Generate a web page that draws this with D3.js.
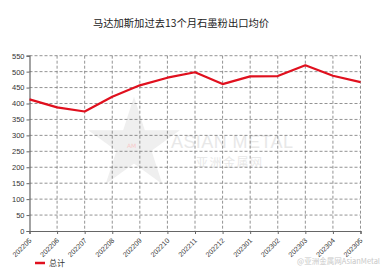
<!DOCTYPE html>
<html>
<head>
<meta charset="utf-8">
<script src="https://cdn.jsdelivr.net/npm/d3@7"></script>
<style>
  body { margin: 0; background: #fff; }
  svg { display: block; font-family: "Noto Sans CJK SC", "DejaVu Sans", sans-serif; }
</style>
</head>
<body>
<svg id="chart" width="383" height="270"></svg>
<script>
const months = ["202205", "202206", "202207", "202208", "202209", "202210", "202211",
    "202212", "202301", "202302", "202303", "202304", "202305"];
const total = [413, 388, 375, 421, 457, 481, 498, 461, 485, 486, 520, 487, 467];
const yTicks = [0, 50, 100, 150, 200, 250, 300, 350, 400, 450, 500, 550];
const title = "马达加斯加过去13个月石墨粉出口均价";
const seriesName = "总计";

const svg = d3.select("#chart");
const margin = { left: 29.5, right: 22.5, top: 55.7, bottom: 39 };
const W = 383, H = 270;

const x = d3.scalePoint().domain(months).range([margin.left, W - margin.right]);
const y = d3.scaleLinear().domain([0, 550]).range([H - margin.bottom, margin.top]);

// title
svg.append("text")
    .attr("x", 181).attr("y", 27)
    .attr("text-anchor", "middle")
    .attr("font-size", 10.3)
    .attr("fill", "#222")
    .text(title);

// watermark
const wm = svg.append("g").attr("opacity", 0.55);
const star = d3.symbol().type(d3.symbolStar).size(2600);
wm.append("path").attr("d", star()).attr("transform", "translate(134,145)")
    .attr("fill", "#e2e2e2");
wm.append("text").attr("x", 127).attr("y", 148).attr("font-size", 6).attr("fill", "#f2a0a0")
    .attr("font-family", "DejaVu Sans").text("AM");
wm.append("text").attr("x", 171).attr("y", 148).attr("font-size", 18)
    .attr("font-family", "Liberation Sans, Arial").attr("fill", "#d6d6d6")
    .attr("textLength", 122).text("ASIAN METAL");
wm.append("text").attr("x", 196).attr("y", 167).attr("font-size", 12)
    .attr("fill", "#d6d6d6").attr("letter-spacing", 1.5).text("亚洲金属网");

// grid
const grid = svg.append("g").attr("stroke", "#777").attr("stroke-width", 0.8)
    .attr("stroke-dasharray", "3,2");
grid.selectAll(".h").data(yTicks.filter(d => d > 0)).join("line")
    .attr("x1", margin.left).attr("x2", W - margin.right)
    .attr("y1", d => y(d)).attr("y2", d => y(d));
grid.selectAll(".v").data(months.slice(1)).join("line")
    .attr("x1", d => x(d)).attr("x2", d => x(d))
    .attr("y1", margin.top).attr("y2", H - margin.bottom);

// axes
const yAxis = svg.append("g").attr("transform", `translate(${margin.left},0)`)
    .call(d3.axisLeft(y).tickValues(yTicks).tickSize(3).tickPadding(2));
const xAxis = svg.append("g").attr("transform", `translate(0,${H - margin.bottom})`)
    .call(d3.axisBottom(x).tickSize(3).tickPadding(2));
[yAxis, xAxis].forEach(a => {
    a.select(".domain").attr("stroke", "#666").attr("stroke-width", 1.2);
    a.selectAll(".tick line").attr("stroke", "#666");
    a.selectAll("text").attr("font-size", 7.5).attr("fill", "#333")
        .attr("font-family", "Liberation Sans, Arial, sans-serif");
});
xAxis.selectAll("text")
    .attr("font-size", 7)
    .attr("text-anchor", "end")
    .attr("y", 0).attr("dx", 0).attr("dy", 0)
    .attr("transform", "translate(2,10) rotate(-45)");

// line
const line = d3.line().x((d, i) => x(months[i])).y(d => y(d));
svg.append("path").datum(total)
    .attr("d", line)
    .attr("fill", "none")
    .attr("stroke", "#e0101e")
    .attr("stroke-width", 2.2)
    .attr("stroke-linejoin", "round");

// legend
svg.append("line").attr("x1", 35).attr("x2", 45).attr("y1", 263).attr("y2", 263)
    .attr("stroke", "#e0101e").attr("stroke-width", 2.5);
svg.append("text").attr("x", 49).attr("y", 266).attr("font-size", 8).attr("fill", "#333")
    .text(seriesName);

// weibo watermark
svg.append("text").attr("x", 380).attr("y", 264).attr("text-anchor", "end")
    .attr("font-size", 7.5).attr("fill", "#c8c8c8")
    .text("@亚洲金属网AsianMetal");
</script>
</body>
</html>
